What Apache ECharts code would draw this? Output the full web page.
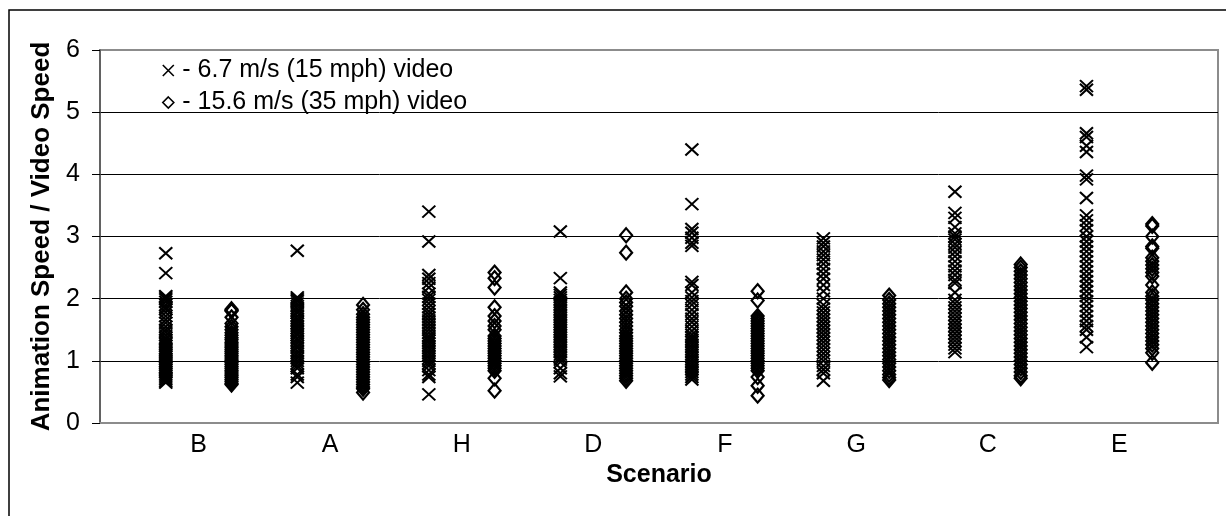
<!DOCTYPE html>
<html>
<head>
<meta charset="utf-8">
<script src="https://cdn.jsdelivr.net/npm/echarts@6/dist/echarts.min.js"></script>
<style>
  html, body { margin: 0; padding: 0; background: #fff; }
  #chart { width: 1226px; height: 516px; }
</style>
</head>
<body>
<div id="chart"></div>
<script>
// Scenario categories (x axis order)
const categories = ['B', 'A', 'H', 'D', 'F', 'G', 'C', 'E'];
const yTicks = [0, 1, 2, 3, 4, 5, 6];
const seriesNames = ['- 6.7 m/s (15 mph) video', '- 15.6 m/s (35 mph) video'];

// 6.7 m/s (15 mph) video — "×" markers, one list per scenario
const slowB = [2.73, 2.41, 2.04, 2.02, 1.99, 1.95, 1.9, 1.86, 1.83, 1.78, 1.72, 1.66, 1.61, 1.55, 1.5, 1.46, 1.41, 1.37, 1.34, 1.3, 1.27, 1.24, 1.2, 1.18, 1.15, 1.12, 1.09, 1.06, 1.03, 1.0, 0.97, 0.94, 0.9, 0.88, 0.85, 0.82, 0.79, 0.76, 0.73, 0.7, 0.67, 0.65];
const slowA = [2.77, 2.02, 1.99, 1.96, 1.92, 1.88, 1.84, 1.8, 1.77, 1.72, 1.68, 1.64, 1.6, 1.56, 1.52, 1.48, 1.44, 1.41, 1.36, 1.32, 1.28, 1.24, 1.21, 1.16, 1.12, 1.08, 1.04, 1.0, 0.96, 0.92, 0.88, 0.78, 0.74, 0.65];
const slowH = [3.4, 2.92, 2.38, 2.32, 2.25, 2.18, 2.08, 2.03, 1.98, 1.92, 1.86, 1.8, 1.75, 1.7, 1.65, 1.6, 1.55, 1.5, 1.45, 1.4, 1.36, 1.32, 1.28, 1.24, 1.2, 1.16, 1.12, 1.08, 1.04, 1.0, 0.96, 0.92, 0.85, 0.78, 0.74, 0.46];
const slowD = [3.08, 2.33, 2.1, 2.06, 2.02, 1.98, 1.94, 1.9, 1.86, 1.82, 1.78, 1.74, 1.7, 1.66, 1.62, 1.58, 1.54, 1.5, 1.46, 1.42, 1.38, 1.34, 1.3, 1.26, 1.22, 1.18, 1.14, 1.1, 1.06, 1.02, 0.98, 0.88, 0.8, 0.75];
const slowF = [4.4, 3.52, 3.12, 3.06, 2.98, 2.9, 2.85, 2.27, 2.22, 2.1, 2.02, 1.96, 1.9, 1.82, 1.75, 1.68, 1.62, 1.55, 1.48, 1.42, 1.38, 1.34, 1.3, 1.26, 1.22, 1.18, 1.14, 1.1, 1.06, 1.02, 0.98, 0.94, 0.9, 0.86, 0.82, 0.78, 0.74, 0.7];
const slowG = [2.97, 2.9, 2.84, 2.76, 2.7, 2.63, 2.56, 2.48, 2.4, 2.32, 2.22, 2.12, 2.0, 1.9, 1.84, 1.78, 1.72, 1.66, 1.6, 1.54, 1.48, 1.42, 1.36, 1.3, 1.24, 1.18, 1.12, 1.06, 1.0, 0.92, 0.86, 0.8, 0.68];
const slowC = [3.72, 3.38, 3.3, 3.15, 3.05, 3.0, 2.95, 2.88, 2.82, 2.75, 2.68, 2.6, 2.52, 2.45, 2.38, 2.3, 2.25, 2.1, 1.98, 1.92, 1.86, 1.8, 1.74, 1.68, 1.62, 1.56, 1.5, 1.44, 1.38, 1.32, 1.26, 1.2, 1.14];
const slowE = [5.42, 5.36, 4.66, 4.6, 4.46, 4.36, 3.98, 3.92, 3.62, 3.34, 3.26, 3.18, 3.1, 3.0, 2.92, 2.84, 2.76, 2.68, 2.6, 2.52, 2.44, 2.36, 2.28, 2.2, 2.12, 2.04, 1.96, 1.88, 1.8, 1.72, 1.64, 1.56, 1.5, 1.38, 1.22];

// 15.6 m/s (35 mph) video — "◇" markers, one list per scenario
const fastB = [1.83, 1.81, 1.8, 1.7, 1.6, 1.55, 1.5, 1.45, 1.41, 1.37, 1.34, 1.3, 1.27, 1.24, 1.21, 1.18, 1.15, 1.12, 1.09, 1.06, 1.03, 1.0, 0.97, 0.94, 0.91, 0.88, 0.85, 0.82, 0.79, 0.76, 0.73, 0.7, 0.67, 0.64, 0.62];
const fastA = [1.9, 1.82, 1.75, 1.7, 1.66, 1.62, 1.58, 1.54, 1.5, 1.46, 1.42, 1.38, 1.34, 1.3, 1.26, 1.22, 1.18, 1.14, 1.1, 1.06, 1.02, 0.98, 0.94, 0.9, 0.86, 0.82, 0.78, 0.74, 0.7, 0.66, 0.62, 0.58, 0.55, 0.49];
const fastH = [2.42, 2.33, 2.18, 1.86, 1.72, 1.64, 1.56, 1.5, 1.4, 1.36, 1.32, 1.28, 1.24, 1.2, 1.16, 1.12, 1.08, 1.04, 1.0, 0.96, 0.92, 0.88, 0.84, 0.72, 0.52];
const fastD = [3.02, 2.74, 2.1, 2.0, 1.94, 1.88, 1.8, 1.74, 1.68, 1.62, 1.56, 1.5, 1.45, 1.4, 1.36, 1.32, 1.28, 1.24, 1.2, 1.16, 1.12, 1.08, 1.04, 1.0, 0.96, 0.92, 0.88, 0.84, 0.8, 0.76, 0.72, 0.68];
const fastF = [2.12, 1.97, 1.72, 1.68, 1.64, 1.6, 1.56, 1.52, 1.48, 1.44, 1.4, 1.36, 1.32, 1.28, 1.24, 1.2, 1.16, 1.12, 1.08, 1.04, 1.0, 0.96, 0.92, 0.88, 0.84, 0.74, 0.6, 0.44];
const fastG = [2.05, 1.98, 1.92, 1.86, 1.8, 1.74, 1.68, 1.62, 1.56, 1.5, 1.44, 1.38, 1.32, 1.26, 1.2, 1.14, 1.08, 1.02, 0.96, 0.9, 0.84, 0.78, 0.73, 0.69];
const fastC = [2.55, 2.5, 2.44, 2.38, 2.32, 2.26, 2.2, 2.14, 2.08, 2.02, 1.96, 1.9, 1.84, 1.78, 1.72, 1.66, 1.6, 1.54, 1.48, 1.42, 1.36, 1.3, 1.24, 1.18, 1.12, 1.06, 1.0, 0.94, 0.88, 0.82, 0.76, 0.72];
const fastE = [3.2, 3.17, 3.0, 2.84, 2.81, 2.66, 2.6, 2.54, 2.48, 2.42, 2.36, 2.22, 2.1, 2.04, 1.98, 1.92, 1.86, 1.8, 1.74, 1.68, 1.62, 1.56, 1.5, 1.44, 1.38, 1.32, 1.26, 1.2, 1.13, 0.97];

const slowLists = [slowB, slowA, slowH, slowD, slowF, slowG, slowC, slowE];
const fastLists = [fastB, fastA, fastH, fastD, fastF, fastG, fastC, fastE];

// Each scenario occupies two slots on a 0..17 value axis: × at 2i+1, ◇ at 2i+2
function buildPoints(lists, offset) {
  const pts = [];
  lists.forEach((vals, i) => {
    vals.forEach(v => pts.push([2 * i + offset, v]));
  });
  return pts;
}

const FONT = 'Liberation Sans, Arial, sans-serif';
const CROSS = 'path://M0,0L10,10M10,0L0,10';
const DIAMOND = 'path://M5,0L10,5L5,10L0,5Z';

const chart = echarts.init(document.getElementById('chart'), null, { renderer: 'canvas' });
chart.setOption({
  animation: false,
  backgroundColor: '#fff',
  textStyle: { fontFamily: FONT },
  graphic: [{
    type: 'rect',
    z: -10,
    shape: { x: 9, y: 10, width: 1400, height: 700 },
    style: { fill: 'none', stroke: '#000', lineWidth: 1.5 }
  }],
  grid: {
    left: 100, top: 50, right: 8, bottom: 93,
    show: true, borderColor: '#8c8c8c', borderWidth: 2, backgroundColor: 'transparent'
  },
  legend: {
    orient: 'vertical',
    left: 157, top: 53,
    itemWidth: 12, itemHeight: 11, itemGap: 7,
    selectedMode: false,
    itemStyle: { color: 'transparent', borderColor: '#000', borderWidth: 1.6 },
    textStyle: { fontFamily: FONT, fontSize: 25, color: '#000', padding: [0, 0, 0, 3] },
    data: [
      { name: seriesNames[0], icon: CROSS },
      { name: seriesNames[1], icon: DIAMOND }
    ]
  },
  xAxis: {
    type: 'value',
    min: 0, max: 17, interval: 0.5,
    name: 'Scenario',
    nameLocation: 'middle',
    nameGap: 33,
    nameTextStyle: { fontFamily: FONT, fontSize: 25, fontWeight: 'bold', color: '#000' },
    axisLine: { show: true, lineStyle: { color: '#8c8c8c', width: 2 } },
    axisTick: { show: false },
    splitLine: { show: false },
    axisLabel: {
      show: true, margin: 10, color: '#000', fontSize: 25, fontFamily: FONT,
      showMinLabel: true, showMaxLabel: true,
      formatter: function (v) {
        const k = (v - 1.5) / 2;
        if (Math.abs(k - Math.round(k)) < 1e-6 && k >= 0 && k < categories.length) {
          return categories[Math.round(k)];
        }
        return '';
      }
    }
  },
  yAxis: {
    type: 'value',
    min: yTicks[0], max: yTicks[yTicks.length - 1], interval: 1,
    name: 'Animation Speed / Video Speed',
    nameLocation: 'middle',
    nameRotate: 90,
    nameGap: 45,
    nameTextStyle: { fontFamily: FONT, fontSize: 26, fontWeight: 'bold', color: '#000' },
    axisLine: { show: true, lineStyle: { color: '#555', width: 1.5 } },
    axisTick: { show: true, length: 8, inside: false, lineStyle: { color: '#000', width: 1 } },
    axisLabel: { margin: 20, color: '#000', fontSize: 25, fontFamily: FONT },
    splitLine: { show: true, showMinLine: false, showMaxLine: false, lineStyle: { color: '#000', width: 1 } }
  },
  series: [
    {
      name: seriesNames[0],
      type: 'scatter',
      symbol: CROSS,
      symbolSize: [13, 12],
      itemStyle: { color: 'transparent', borderColor: '#000', borderWidth: 2, opacity: 1 },
      data: buildPoints(slowLists, 1),
      z: 3
    },
    {
      name: seriesNames[1],
      type: 'scatter',
      symbol: DIAMOND,
      symbolSize: [12, 14],
      itemStyle: { color: 'transparent', borderColor: '#000', borderWidth: 2.2, opacity: 1 },
      data: buildPoints(fastLists, 2),
      z: 3
    }
  ]
});
</script>
</body>
</html>
